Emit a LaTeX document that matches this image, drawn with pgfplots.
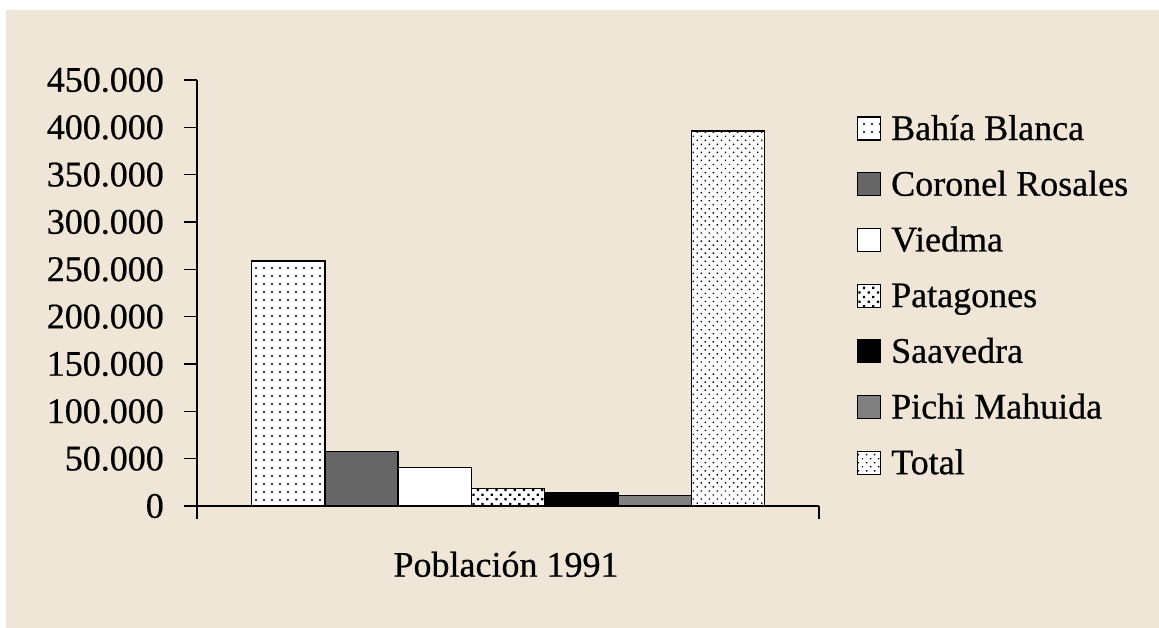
\documentclass[border=0pt]{standalone}
\usepackage{fontspec}
\setmainfont{Liberation Serif}[FakeBold=0.6]
\usepackage{pgfplots}
\pgfplotsset{compat=1.18}
\usetikzlibrary{patterns.meta}
\definecolor{bg}{RGB}{239,230,216}
\pgfplotsset{sqlegend/.style={legend image code/.code={\draw[##1,line width=1.2bp] (0bp,0bp) rectangle (23bp,23bp);}}}
\begin{document}
\begin{tikzpicture}[x=1bp,y=1bp]
\fill[white] (0,0) rectangle (1159,628);
\fill[bg] (6,0) rectangle (1159,618);
\begin{axis}[
  at={(197bp,122bp)}, anchor=south west,
  scale only axis, width=622bp, height=426bp,
  xmin=-1, xmax=1, ymin=0, ymax=450000,
  axis lines*=left,
  axis line style={line width=1.5bp},
  ybar=0pt, bar width=73.3bp,
  xtick={-1,1}, xticklabels={},
  ytick={0,50000,...,450000},
  tick align=outside, major tick length=13bp,
  tick style={line width=1.5bp, black},
  scaled y ticks=false,
  /pgf/number format/assume math mode=true,
  /pgf/number format/fixed,
  /pgf/number format/1000 sep={.},
  tick label style={font=\fontsize{36bp}{40bp}\selectfont},
  yticklabel style={inner sep=0pt, xshift=-20bp},
  xlabel={Población 1991},
  xlabel style={at={(axis description cs:0.4968,0)}, anchor=base, yshift=-70.7bp, inner sep=0pt, font=\fontsize{36bp}{40bp}\selectfont},
  every axis plot post/.append style={sqlegend, line width=1.5bp, draw=black},
  legend cell align=left,
  legend style={at={(1.0611,0.9178)}, anchor=north west, draw=none, fill=none,
    inner sep=0pt, outer sep=0pt, font=\fontsize{36bp}{40bp}\selectfont,
    row sep=22.7bp, column sep=10bp,
    nodes={inner sep=0pt, text height=25bp, text depth=8bp, anchor=base west}},
]
\addplot[fill=white, postaction={pattern={Dots[distance=8bp, radius=1.1bp]}}] coordinates {(0,259000)};
\addlegendentry{Bahía Blanca}
\addplot[fill=black!60] coordinates {(0,57800)};
\addlegendentry{Coronel Rosales}
\addplot[fill=white] coordinates {(0,40900)};
\addlegendentry{Viedma}
\addplot[fill=white, postaction={pattern={Dots[distance=6.5bp, radius=1.6bp, angle=45]}}] coordinates {(0,18300)};
\addlegendentry{Patagones}
\addplot[fill=black] coordinates {(0,14000)};
\addlegendentry{Saavedra}
\addplot[fill=black!50] coordinates {(0,11300)};
\addlegendentry{Pichi Mahuida}
\addplot[fill=white, postaction={pattern={Dots[distance=5.7bp, radius=1bp, angle=45]}}] coordinates {(0,396000)};
\addlegendentry{Total}
\end{axis}
\pgfresetboundingbox
\useasboundingbox (0,0) rectangle (1159,628);
\end{tikzpicture}
\end{document}
